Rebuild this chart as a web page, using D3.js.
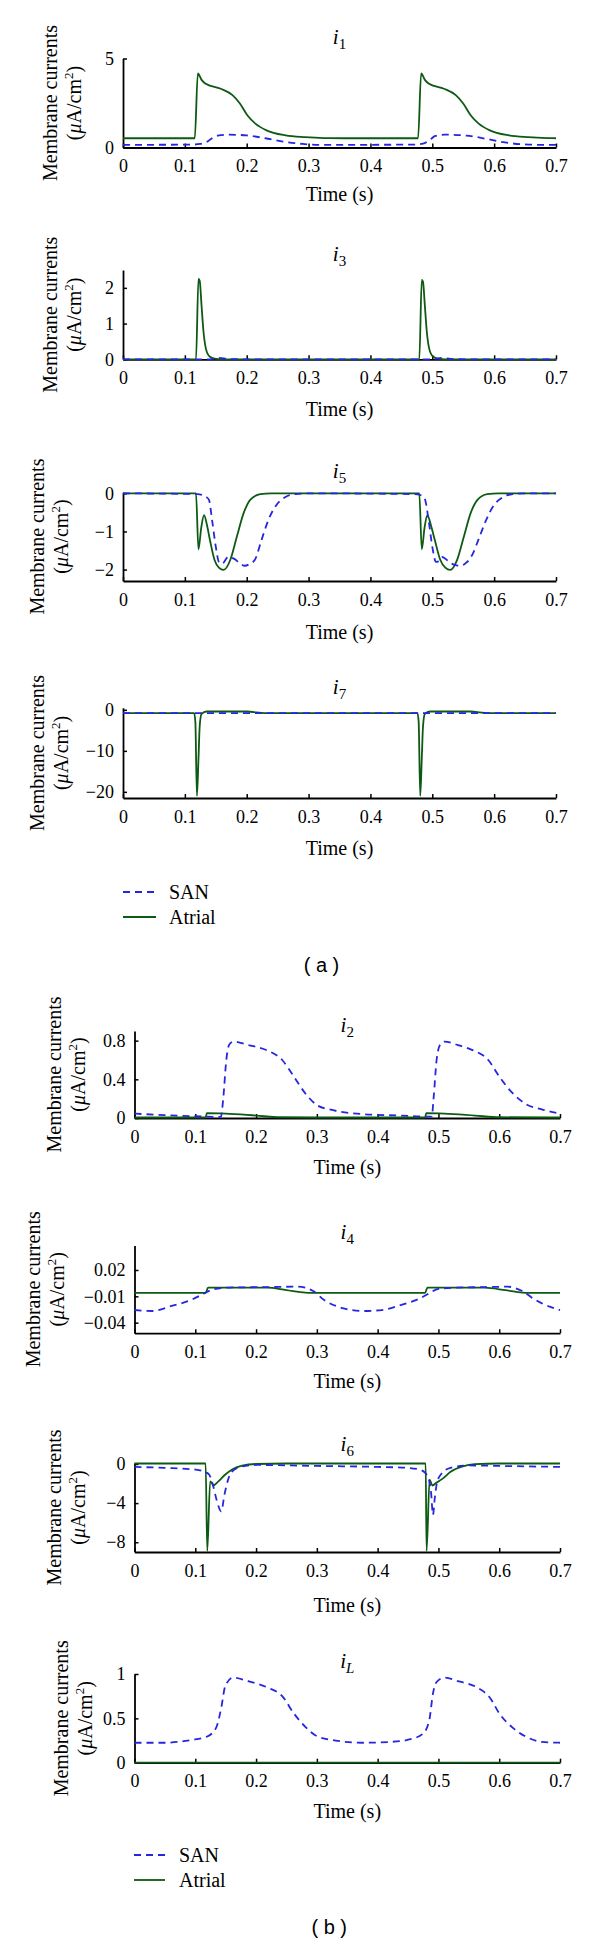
<!DOCTYPE html>
<html><head><meta charset="utf-8">
<script src="https://cdn.jsdelivr.net/npm/d3@7"></script>
<style>body{margin:0;background:#fff}</style>
</head><body>
<svg id="c" width="600" height="1942"></svg>
<script>
// ---------- data (time in s, current in µA/cm²) ----------
const timeTicks = [0, 0.1, 0.2, 0.3, 0.4, 0.5, 0.6, 0.7];
const seriesNames = ["SAN", "Atrial"];

const i1_SAN = [[0,0.15],[0.11,0.16],[0.125,0.2],[0.135,0.3],[0.145,0.55],[0.155,0.68],[0.17,0.72],[0.2,0.68],[0.23,0.52],[0.26,0.33],[0.29,0.2],[0.32,0.15],[0.47,0.16],[0.485,0.22],[0.495,0.4],[0.505,0.65],[0.52,0.72],[0.555,0.67],[0.585,0.5],[0.615,0.3],[0.645,0.18],[0.675,0.15],[0.7,0.15]];
const i1_Atrial = [[0,0.52],[0.116,0.52],[0.121,4.16],[0.127,3.8],[0.133,3.6],[0.158,3.3],[0.177,2.94],[0.189,2.47],[0.201,1.81],[0.214,1.34],[0.232,0.96],[0.263,0.68],[0.294,0.58],[0.325,0.53],[0.36,0.52],[0.477,0.52],[0.482,4.16],[0.488,3.8],[0.494,3.6],[0.519,3.3],[0.538,2.94],[0.55,2.47],[0.562,1.81],[0.575,1.34],[0.593,0.96],[0.624,0.68],[0.655,0.58],[0.686,0.53],[0.7,0.52]];

const i3_SAN = [[0,0],[0.14,0],[0.155,0.04],[0.17,0.01],[0.2,0],[0.5,0],[0.515,0.04],[0.53,0.01],[0.56,0],[0.7,0]];
const i3_Atrial = [[0,0],[0.118,0],[0.122,2.25],[0.124,2.2],[0.127,1.5],[0.13,0.8],[0.134,0.3],[0.14,0.08],[0.15,0.01],[0.16,0],[0.479,0],[0.483,2.22],[0.485,2.17],[0.488,1.5],[0.491,0.8],[0.495,0.3],[0.501,0.08],[0.511,0.01],[0.521,0],[0.7,0]];

const i5_SAN = [[0,0],[0.12,-0.02],[0.13,-0.05],[0.135,-0.1],[0.139,-0.17],[0.144,-0.7],[0.15,-1.4],[0.155,-1.8],[0.16,-1.85],[0.17,-1.67],[0.18,-1.72],[0.19,-1.85],[0.197,-1.9],[0.205,-1.85],[0.213,-1.75],[0.224,-1.22],[0.235,-0.7],[0.246,-0.35],[0.262,-0.1],[0.279,-0.02],[0.3,0],[0.47,-0.02],[0.482,-0.05],[0.488,-0.15],[0.494,-0.7],[0.5,-1.4],[0.506,-1.8],[0.51,-1.78],[0.516,-1.67],[0.526,-1.78],[0.536,-1.88],[0.545,-1.9],[0.555,-1.82],[0.565,-1.6],[0.575,-1.2],[0.587,-0.7],[0.598,-0.35],[0.614,-0.1],[0.63,-0.02],[0.65,0],[0.7,0]];
const i5_Atrial = [[0,0],[0.118,0],[0.122,-1.47],[0.1265,-0.9],[0.131,-0.57],[0.136,-0.85],[0.1405,-1.22],[0.148,-1.75],[0.155,-1.95],[0.1626,-2.01],[0.1734,-1.75],[0.184,-1.14],[0.195,-0.52],[0.2057,-0.17],[0.222,-0.02],[0.24,0],[0.479,0],[0.483,-1.47],[0.4875,-0.9],[0.492,-0.57],[0.498,-0.85],[0.504,-1.22],[0.513,-1.75],[0.521,-1.95],[0.529,-2.01],[0.54,-1.75],[0.551,-1.14],[0.562,-0.52],[0.573,-0.17],[0.589,-0.02],[0.607,0],[0.7,0]];

const i7_SAN = [[0,-0.8],[0.2,-0.8],[0.4,-0.8],[0.7,-0.8]];
const i7_Atrial = [[0,-0.8],[0.115,-0.8],[0.117,-3],[0.1195,-21],[0.122,-12],[0.124,-4],[0.127,-1],[0.135,-0.4],[0.2,-0.4],[0.23,-0.8],[0.476,-0.8],[0.478,-3],[0.4805,-21],[0.483,-12],[0.485,-4],[0.488,-1],[0.496,-0.4],[0.561,-0.4],[0.591,-0.8],[0.7,-0.8]];

const i2_SAN = [[0,0.045],[0.05,0.03],[0.1,0.018],[0.13,0.012],[0.142,0.012],[0.146,0.2],[0.151,0.6],[0.156,0.76],[0.163,0.79],[0.187,0.755],[0.218,0.7],[0.243,0.6],[0.262,0.43],[0.281,0.255],[0.3,0.134],[0.325,0.083],[0.375,0.04],[0.438,0.025],[0.48,0.015],[0.489,0.015],[0.492,0.2],[0.497,0.6],[0.503,0.76],[0.51,0.79],[0.532,0.755],[0.557,0.7],[0.582,0.6],[0.6,0.43],[0.62,0.27],[0.645,0.14],[0.67,0.09],[0.7,0.045]];
const i2_Atrial = [[0,0.005],[0.117,0.005],[0.119,0.05],[0.15,0.045],[0.2,0.025],[0.24,0.008],[0.3,0.005],[0.478,0.005],[0.48,0.05],[0.51,0.045],[0.56,0.025],[0.6,0.008],[0.7,0.005]];

const i4_SAN = [[0,-0.0256],[0.03,-0.0267],[0.061,-0.021],[0.093,-0.0142],[0.112,-0.0077],[0.13,-0.002],[0.156,0.0],[0.218,0.0005],[0.268,0.001],[0.294,-0.004],[0.312,-0.0142],[0.344,-0.0237],[0.375,-0.0267],[0.407,-0.0256],[0.438,-0.02],[0.469,-0.0125],[0.482,-0.0077],[0.5,-0.0015],[0.532,0.0],[0.58,0.0005],[0.613,0.001],[0.638,-0.004],[0.658,-0.0135],[0.683,-0.0218],[0.7,-0.0256]];
const i4_Atrial = [[0,-0.006],[0.117,-0.006],[0.121,-0.0002],[0.218,-0.0002],[0.25,-0.003],[0.281,-0.0058],[0.29,-0.006],[0.478,-0.006],[0.482,-0.0002],[0.576,-0.0002],[0.61,-0.003],[0.638,-0.0058],[0.65,-0.006],[0.7,-0.006]];

const i6_SAN = [[0,-0.3],[0.05,-0.4],[0.101,-0.58],[0.115,-0.8],[0.123,-1.1],[0.1296,-2.3],[0.135,-3.65],[0.1427,-4.85],[0.148,-3.14],[0.154,-1.6],[0.16,-0.8],[0.177,-0.25],[0.2,-0.1],[0.3,-0.2],[0.4,-0.3],[0.45,-0.4],[0.47,-0.6],[0.478,-0.9],[0.484,-1.5],[0.488,-3.0],[0.491,-5.2],[0.494,-3.5],[0.498,-1.8],[0.505,-1.0],[0.52,-0.4],[0.55,-0.15],[0.6,-0.2],[0.65,-0.25],[0.7,-0.3]];
const i6_Atrial = [[0,0.05],[0.117,0.05],[0.1197,-8.9],[0.1245,-1.77],[0.128,-2.0],[0.1296,-2.2],[0.138,-1.78],[0.149,-1.1],[0.16,-0.58],[0.177,-0.17],[0.2,0.0],[0.25,0.05],[0.479,0.05],[0.4805,-8.9],[0.4855,-1.6],[0.49,-2.2],[0.497,-1.9],[0.507,-1.5],[0.52,-0.8],[0.54,-0.25],[0.56,-0.02],[0.6,0.05],[0.7,0.05]];

const iL_SAN = [[0,0.225],[0.05,0.225],[0.093,0.256],[0.118,0.29],[0.134,0.39],[0.143,0.63],[0.149,0.857],[0.162,0.96],[0.187,0.92],[0.218,0.85],[0.243,0.75],[0.262,0.557],[0.281,0.405],[0.3,0.3],[0.331,0.25],[0.375,0.225],[0.425,0.236],[0.457,0.27],[0.475,0.33],[0.485,0.48],[0.491,0.78],[0.497,0.91],[0.51,0.96],[0.532,0.92],[0.563,0.85],[0.585,0.73],[0.6,0.557],[0.623,0.39],[0.645,0.29],[0.67,0.235],[0.7,0.225]];
const iL_Atrial = [[0,0],[0.35,0],[0.7,0]];

// ---------- layout ----------
const colors = {SAN: "#2626e0", Atrial: "#0d5a12"};
const serif = "'Liberation Serif', 'DejaVu Serif', serif";
const groupA = {x0: 123, x1: 556};
const groupB = {x0: 134.5, x1: 560};
const panels = [
  {sub:"1", san:i1_SAN, atr:i1_Atrial, dom:[0,5], ticks:[0,5], g:groupA, top:58.5, bottom:147.5, titleC:38, timeC:195, labX:74},
  {sub:"3", san:i3_SAN, atr:i3_Atrial, dom:[0,2.5], ticks:[0,1,2], g:groupA, top:270, bottom:359.3, titleC:255, timeC:410, labX:74},
  {sub:"5", san:i5_SAN, atr:i5_Atrial, dom:[-2.3,0.03], ticks:[-2,-1,0], g:groupA, top:492.2, bottom:581, titleC:472, timeC:633, labX:61},
  {sub:"7", san:i7_SAN, atr:i7_Atrial, dom:[-21.5,0.5], ticks:[-20,-10,0], g:groupA, top:707.8, bottom:798, titleC:688, timeC:849, labX:61},
  {sub:"2", san:i2_SAN, atr:i2_Atrial, dom:[0,0.9], ticks:[0,0.4,0.8], g:groupB, top:1031, bottom:1118, titleC:1026, timeC:1168, labX:78},
  {sub:"4", san:i4_SAN, atr:i4_Atrial, dom:[-0.052,0.048], ticks:[-0.04,-0.01,0.02], g:groupB, top:1245.4, bottom:1333.2, titleC:1233, timeC:1382, labX:57},
  {sub:"6", san:i6_SAN, atr:i6_Atrial, dom:[-9,0.1], ticks:[-8,-4,0], g:groupB, top:1463, bottom:1552, titleC:1445, timeC:1606, labX:78},
  {sub:"L", subItalic:true, san:iL_SAN, atr:iL_Atrial, dom:[0,1], ticks:[0,0.5,1], g:groupB, top:1674, bottom:1762.7, titleC:1662, timeC:1812, labX:85}
];
const legends = [
  {g:groupA, y1:892, y2:917, lx0:123, lx1:156, tx:169, cap:"( a )", capY:965},
  {g:groupB, y1:1855, y2:1880, lx0:134, lx1:165, tx:179, cap:"( b )", capY:1927}
];

const svg = d3.select("#c");
svg.append("rect").attr("width",600).attr("height",1942).attr("fill","#fff");
const fmt = v => (v < 0 ? "\u2212" : "") + Math.abs(v);

panels.forEach(p => {
  const x = d3.scaleLinear().domain([0, 0.7]).range([p.g.x0, p.g.x1]);
  const y = d3.scaleLinear().domain(p.dom).range([p.bottom, p.top]);
  const g = svg.append("g");
  const cx = (p.g.x0 + p.g.x1) / 2;

  // title
  const t = g.append("text").attr("x", cx).attr("y", p.titleC + 6).attr("text-anchor","middle")
    .attr("font-family", serif).attr("font-size", 21).attr("fill","#000");
  t.append("tspan").attr("font-style","italic").text("i");
  t.append("tspan").attr("font-size", 15).attr("dy", 5).attr("font-style", p.subItalic ? "italic" : "normal").text(p.sub);

  // axes
  const xa = g.append("g").attr("transform", `translate(0,${p.bottom})`)
    .call(d3.axisBottom(x).tickValues(timeTicks).tickFormat(d => d === 0 ? "0" : d3.format(".1f")(d))
      .tickSizeInner(-4).tickSizeOuter(0).tickPadding(12));
  const ya = g.append("g").attr("transform", `translate(${p.g.x0},0)`)
    .call(d3.axisLeft(y).tickValues(p.ticks).tickFormat(fmt)
      .tickSizeInner(-4).tickSizeOuter(0).tickPadding(9));
  [xa, ya].forEach(a => {
    a.selectAll("text").attr("font-family", serif).attr("font-size", 18).attr("fill","#000");
    a.selectAll("line").attr("stroke","#000").attr("stroke-width",1.5);
    a.select(".domain").attr("stroke","#000").attr("stroke-width",1.8);
  });

  // Time label
  g.append("text").attr("x", cx).attr("y", p.timeC + 6).attr("text-anchor","middle")
    .attr("font-family", serif).attr("font-size", 20).text("Time (s)");

  // y label
  const my = (p.top + p.bottom) / 2;
  g.append("text").attr("transform", `translate(${p.labX - 24},${my}) rotate(-90)`).attr("dy","0.35em")
    .attr("text-anchor","middle").attr("font-family", serif).attr("font-size", 20).text("Membrane currents");
  const u = g.append("text").attr("transform", `translate(${p.labX},${my}) rotate(-90)`).attr("dy","0.35em")
    .attr("text-anchor","middle").attr("font-family", serif).attr("font-size", 20);
  u.append("tspan").text("(");
  u.append("tspan").attr("font-style","italic").text("\u03bc");
  u.append("tspan").text("A/cm");
  u.append("tspan").attr("font-size", 13).attr("dy", -8).text("2");
  u.append("tspan").attr("dy", 8).text(")");

  // lines
  const line = d3.line().x(d => x(d[0])).y(d => y(d[1])).curve(d3.curveMonotoneX);
  g.append("path").datum(p.atr).attr("d", line).attr("fill","none")
    .attr("stroke", colors.Atrial).attr("stroke-width", 1.8).attr("stroke-linejoin","round");
  g.append("path").datum(p.san).attr("d", line).attr("fill","none")
    .attr("stroke", colors.SAN).attr("stroke-width", 1.8).attr("stroke-dasharray","7,5");
});

legends.forEach(l => {
  const g = svg.append("g");
  [[seriesNames[0], l.y1, "7,5"], [seriesNames[1], l.y2, null]].forEach(([name, yy, dash]) => {
    g.append("line").attr("x1", l.lx0).attr("x2", l.lx1).attr("y1", yy).attr("y2", yy)
      .attr("stroke", colors[name]).attr("stroke-width", 1.8).attr("stroke-dasharray", dash);
    g.append("text").attr("x", l.tx).attr("y", yy + 7).attr("font-family", serif).attr("font-size", 20).text(name);
  });
  g.append("text").attr("x", (l.g.x0 + l.g.x1) / 2 - 18).attr("y", l.capY + 7).attr("text-anchor","middle")
    .attr("font-family","'Liberation Sans', Arial, sans-serif").attr("font-size", 20).text(l.cap);
});
</script>
</body></html>
